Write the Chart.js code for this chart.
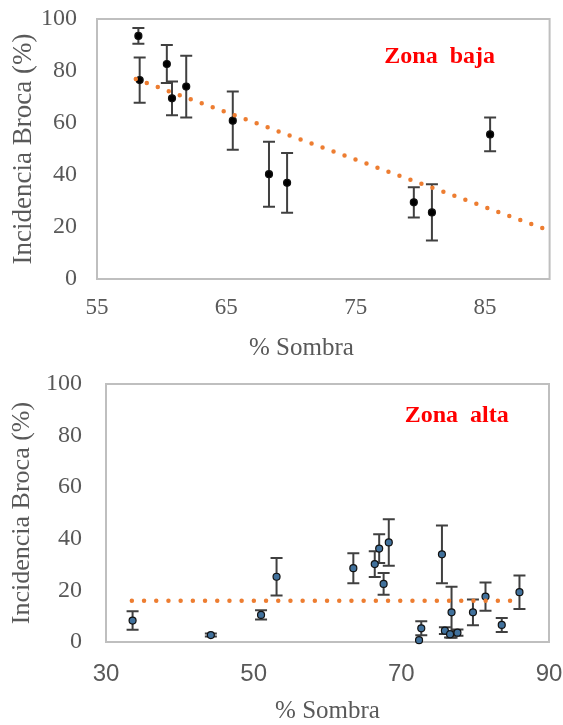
<!DOCTYPE html>
<html>
<head>
<meta charset="utf-8">
<script src="https://cdn.jsdelivr.net/npm/chart.js@4.4.0/dist/chart.umd.min.js"></script>
<style>
  body { margin: 0; background: #fff; width: 563px; height: 725px; overflow: hidden; }
  canvas { position: absolute; left: 0; }
  #bajaChart { top: 0; }
  #altaChart { top: 365px; }
</style>
</head>
<body>
<canvas id="bajaChart" width="563" height="365"></canvas>
<canvas id="altaChart" width="563" height="360"></canvas>
<script>
// Zona baja
const bajaSombra = [58.2, 58.3, 60.4, 60.8, 61.9, 65.5, 68.3, 69.7, 79.5, 80.9, 85.4];
const bajaIncidencia = [93.5, 76.5, 82.7, 69.5, 74.0, 60.9, 40.3, 37.0, 29.5, 25.6, 55.6];
const bajaError = [3.0, 8.7, 7.3, 6.5, 11.9, 11.2, 12.5, 11.5, 5.8, 10.8, 6.5];
const bajaTendX = [58.0, 89.6];
const bajaTendY = [76.9, 19.3];
const bajaXTicks = [55, 65, 75, 85];

// Zona alta
const altaSombra = [33.6, 44.2, 51.0, 53.1, 63.5, 66.4, 67.0, 67.6, 68.3, 75.5, 72.7, 72.4, 76.8, 75.9, 76.6, 77.6, 79.7, 81.4, 83.6, 86.0];
const altaIncidencia = [8.3, 2.7, 10.5, 25.3, 28.6, 30.2, 36.2, 22.5, 38.6, 34.0, 5.3, 0.7, 11.5, 4.4, 3.0, 3.6, 11.5, 17.6, 6.6, 19.3];
const altaError = [3.6, 0.6, 1.8, 7.3, 5.8, 5.0, 5.6, 4.2, 9.0, 11.2, 2.7, 0, 9.9, 1.3, 1.3, 1.2, 5.0, 5.5, 2.7, 6.5];
const altaTendX = [33.5, 85.8];
const altaTendY = [16.0, 16.0];
const altaXTicks = [30, 50, 70, 90];

const yTicks = [0, 20, 40, 60, 80, 100];

const serif = "'Liberation Serif', 'Times New Roman', serif";
const sans = "'Liberation Sans', Arial, sans-serif";
const gray = '#595959';

// error bars + plot frame + zone label
const extras = {
    id: 'extras',
    beforeDatasetsDraw(chart, args, opts) {
        const {ctx, chartArea: a, scales: {x, y}} = chart;
        ctx.save();
        ctx.strokeStyle = '#bfbfbf';
        ctx.lineWidth = 2;
        ctx.strokeRect(a.left, a.top, a.right - a.left, a.bottom - a.top);

        ctx.strokeStyle = '#404040';
        ctx.lineWidth = 2;
        opts.xs.forEach((v, i) => {
            if (!opts.err[i]) return;
            const px = x.getPixelForValue(v);
            const top = y.getPixelForValue(opts.ys[i] + opts.err[i]);
            const bot = y.getPixelForValue(opts.ys[i] - opts.err[i]);
            ctx.beginPath();
            ctx.moveTo(px, top); ctx.lineTo(px, bot);
            ctx.moveTo(px - 6, top); ctx.lineTo(px + 6, top);
            ctx.moveTo(px - 6, bot); ctx.lineTo(px + 6, bot);
            ctx.stroke();
        });
        ctx.restore();
    },
    afterDatasetsDraw(chart, args, opts) {
        const {ctx, scales: {x, y}} = chart;
        ctx.save();
        ctx.fillStyle = '#ff0000';
        ctx.font = 'bold 24px ' + serif;
        ctx.textAlign = 'center';
        ctx.textBaseline = 'middle';
        ctx.fillText(opts.label, x.getPixelForValue(opts.labelAt[0]), y.getPixelForValue(opts.labelAt[1]));
        ctx.restore();
    }
};

// no label overflow padding, fixed axis boxes
function noPad(s) {
    s.paddingTop = 0;
    s.paddingBottom = 0;
    s.paddingLeft = 0;
    s.paddingRight = 0;
}

function makeChart(id, c) {
    const points = c.xs.map((v, i) => ({x: v, y: c.ys[i]}));
    const trend = c.tx.map((v, i) => ({x: v, y: c.ty[i]}));
    return new Chart(document.getElementById(id), {
        type: 'scatter',
        data: {
            datasets: [{
                data: points,
                pointRadius: 3.5,
                pointBackgroundColor: c.pointColor,
                pointBorderColor: '#111',
                pointBorderWidth: 1.2,
                clip: false,
                order: 2
            }, {
                data: trend,
                showLine: true,
                pointRadius: 0,
                borderColor: '#ed7d31',
                borderWidth: 4.5,
                borderCapStyle: 'round',
                borderDash: [0, c.dotGap],
                order: 1
            }]
        },
        options: {
            responsive: false,
            animation: false,
            layout: { padding: { top: 19, right: c.padRight, left: 0, bottom: 0 } },
            plugins: {
                legend: { display: false },
                tooltip: { enabled: false },
                extras: { xs: c.xs, ys: c.ys, err: c.err, label: c.label, labelAt: c.labelAt }
            },
            scales: {
                x: {
                    type: 'linear',
                    min: c.xMin,
                    max: c.xMax,
                    afterBuildTicks: s => { s.ticks = c.xTicks.map(v => ({value: v})); },
                    afterFit: s => { s.height = c.xAxisH; noPad(s); },
                    grid: { display: false, drawTicks: false },
                    border: { display: false },
                    ticks: { padding: c.xTickPad, color: gray, font: c.xTickFont, maxRotation: 0 },
                    title: {
                        display: true,
                        text: c.xTitle,
                        color: gray,
                        font: { family: serif, size: 25, lineHeight: 1 },
                        padding: { top: 0, bottom: c.xTitlePad }
                    }
                },
                y: {
                    min: 0,
                    max: 100,
                    afterBuildTicks: s => { s.ticks = yTicks.map(v => ({value: v})); },
                    afterFit: s => { s.width = c.yAxisW; noPad(s); },
                    grid: { display: false, drawTicks: false },
                    border: { display: false },
                    ticks: { padding: c.yTickPad, color: gray, font: { family: serif, size: 24 } },
                    title: {
                        display: true,
                        text: 'Incidencia Broca (%)',
                        color: gray,
                        font: { family: serif, size: c.yTitleSize, lineHeight: 1 },
                        padding: { top: c.yTitlePad, bottom: 0 }
                    }
                }
            }
        },
        plugins: [extras]
    });
}

makeChart('bajaChart', {
    xs: bajaSombra, ys: bajaIncidencia, err: bajaError,
    tx: bajaTendX, ty: bajaTendY,
    xMin: 55, xMax: 90, xTicks: bajaXTicks,
    pointColor: '#000', dotGap: 11.7,
    label: 'Zona  baja', labelAt: [81.5, 85.4],
    padRight: 13.4, xAxisH: 86, yAxisW: 97,
    xTickPad: 15, xTickFont: { family: serif, size: 23 },
    xTitle: '% Sombra\u00a0\u00a0\u00a0\u00a0\u00a0\u00a0\u00a0', xTitlePad: 4.5,
    yTickPad: 20, yTitleSize: 27, yTitlePad: 10.5
});

makeChart('altaChart', {
    xs: altaSombra, ys: altaIncidencia, err: altaError,
    tx: altaTendX, ty: altaTendY,
    xMin: 30, xMax: 90, xTicks: altaXTicks,
    pointColor: '#41719c', dotGap: 12.2,
    label: 'Zona  alta', labelAt: [77.5, 87.6],
    padRight: 14, xAxisH: 83, yAxisW: 106,
    xTickPad: 18, xTickFont: { family: sans, size: 24 },
    xTitle: '% Sombra', xTitlePad: 1.5,
    yTickPad: 24, yTitleSize: 26, yTitlePad: 9
});
</script>
</body>
</html>
